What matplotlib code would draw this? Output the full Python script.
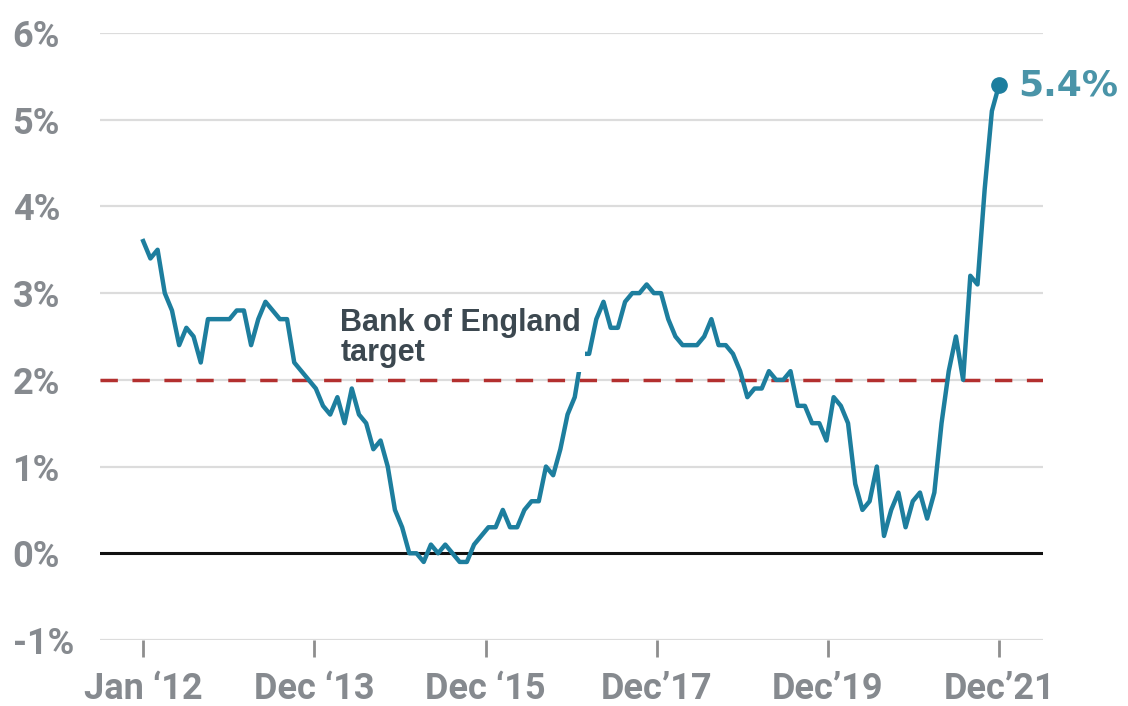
import matplotlib
matplotlib.use("Agg")
import numpy as np
import matplotlib.pyplot as plt

# --- palette -------------------------------------------------------------
LINE = "#1d7e9e"
LABEL = "#4a94a8"
TICK = "#868a8f"
GRID = "#dcdcdc"
TARGET = "#b3302f"
NOTE = "#3c4850"

# --- data: UK CPI annual rate, Jan 2012 - Dec 2021 --------------------------
cpi_2012 = [3.6, 3.4, 3.5, 3.0, 2.8, 2.4, 2.6, 2.5, 2.2, 2.7, 2.7, 2.7]
cpi_2013 = [2.7, 2.8, 2.8, 2.4, 2.7, 2.9, 2.8, 2.7, 2.7, 2.2, 2.1, 2.0]
cpi_2014 = [1.9, 1.7, 1.6, 1.8, 1.5, 1.9, 1.6, 1.5, 1.2, 1.3, 1.0, 0.5]
cpi_2015 = [0.3, 0.0, 0.0, -0.1, 0.1, 0.0, 0.1, 0.0, -0.1, -0.1, 0.1, 0.2]
cpi_2016 = [0.3, 0.3, 0.5, 0.3, 0.3, 0.5, 0.6, 0.6, 1.0, 0.9, 1.2, 1.6]
cpi_2017 = [1.8, 2.3, 2.3, 2.7, 2.9, 2.6, 2.6, 2.9, 3.0, 3.0, 3.1, 3.0]
cpi_2018 = [3.0, 2.7, 2.5, 2.4, 2.4, 2.4, 2.5, 2.7, 2.4, 2.4, 2.3, 2.1]
cpi_2019 = [1.8, 1.9, 1.9, 2.1, 2.0, 2.0, 2.1, 1.7, 1.7, 1.5, 1.5, 1.3]
cpi_2020 = [1.8, 1.7, 1.5, 0.8, 0.5, 0.6, 1.0, 0.2, 0.5, 0.7, 0.3, 0.6]
cpi_2021 = [0.7, 0.4, 0.7, 1.5, 2.1, 2.5, 2.0, 3.2, 3.1, 4.2, 5.1, 5.4]

cpi = (cpi_2012 + cpi_2013 + cpi_2014 + cpi_2015 + cpi_2016
       + cpi_2017 + cpi_2018 + cpi_2019 + cpi_2020 + cpi_2021)
months = list(range(len(cpi)))

target = 2.0
tick_labels = ["Jan \u201812", "Dec \u201813", "Dec \u201815",
               "Dec\u201917", "Dec\u201919", "Dec\u201921"]
y_ticks = [-1, 0, 1, 2, 3, 4, 5, 6]
y_labels = ["-1%", "0%", "1%", "2%", "3%", "4%", "5%", "6%"]

# ticks are spread evenly from first to last month, as in the original
tick_pos = np.linspace(months[0], months[-1], len(tick_labels))

fig = plt.figure(figsize=(11.28, 7.06), dpi=100)
ax = fig.add_axes([0.0887, 0.0935, 0.8359, 0.8598])

for y in y_ticks:
    if y == 0:
        continue
    ax.axhline(y, color=GRID, lw=1.6, zorder=1)
ax.axhline(0, color="#111111", lw=2.2, zorder=2)
ax.axhline(target, color=TARGET, lw=2.5, ls=(0, (5, 4.2)), zorder=2)

ax.plot(months, cpi, color=LINE, lw=3.2, zorder=3, solid_joinstyle="round")
ax.plot(months[-1], cpi[-1], "o", color=LINE, ms=11, zorder=4)

ax.text(months[-1] + 2.6, cpi[-1], f"{cpi[-1]:.1f}%", color=LABEL,
        fontsize=26, fontweight="bold", family="DejaVu Sans",
        ha="left", va="center", zorder=5,
        bbox=dict(facecolor="white", edgecolor="none", pad=2))

ax.text(27.4, 2.83, "Bank of England\ntarget", color=NOTE, fontsize=22,
        fontweight="bold", family="Liberation Sans", ha="left", va="top",
        linespacing=1.0, zorder=5,
        bbox=dict(facecolor="white", edgecolor="none", pad=3))

ax.set_xlim(-6, 125.1)
ax.set_ylim(-1, 6)

ax.set_xticks(tick_pos)
ax.set_xticklabels(tick_labels, fontsize=26, fontweight="bold",
                   family="Roboto", color=TICK)
ax.tick_params(axis="x", length=12, width=2, color="#8e8e8e", pad=10)

ax.set_yticks(y_ticks)
ax.set_yticklabels(y_labels, fontsize=26, fontweight="bold",
                   family="Roboto", color=TICK, ha="left")
ax.tick_params(axis="y", length=0, pad=63)

for s in ax.spines.values():
    s.set_visible(False)

fig.savefig("out.png", dpi=100, facecolor="white")
